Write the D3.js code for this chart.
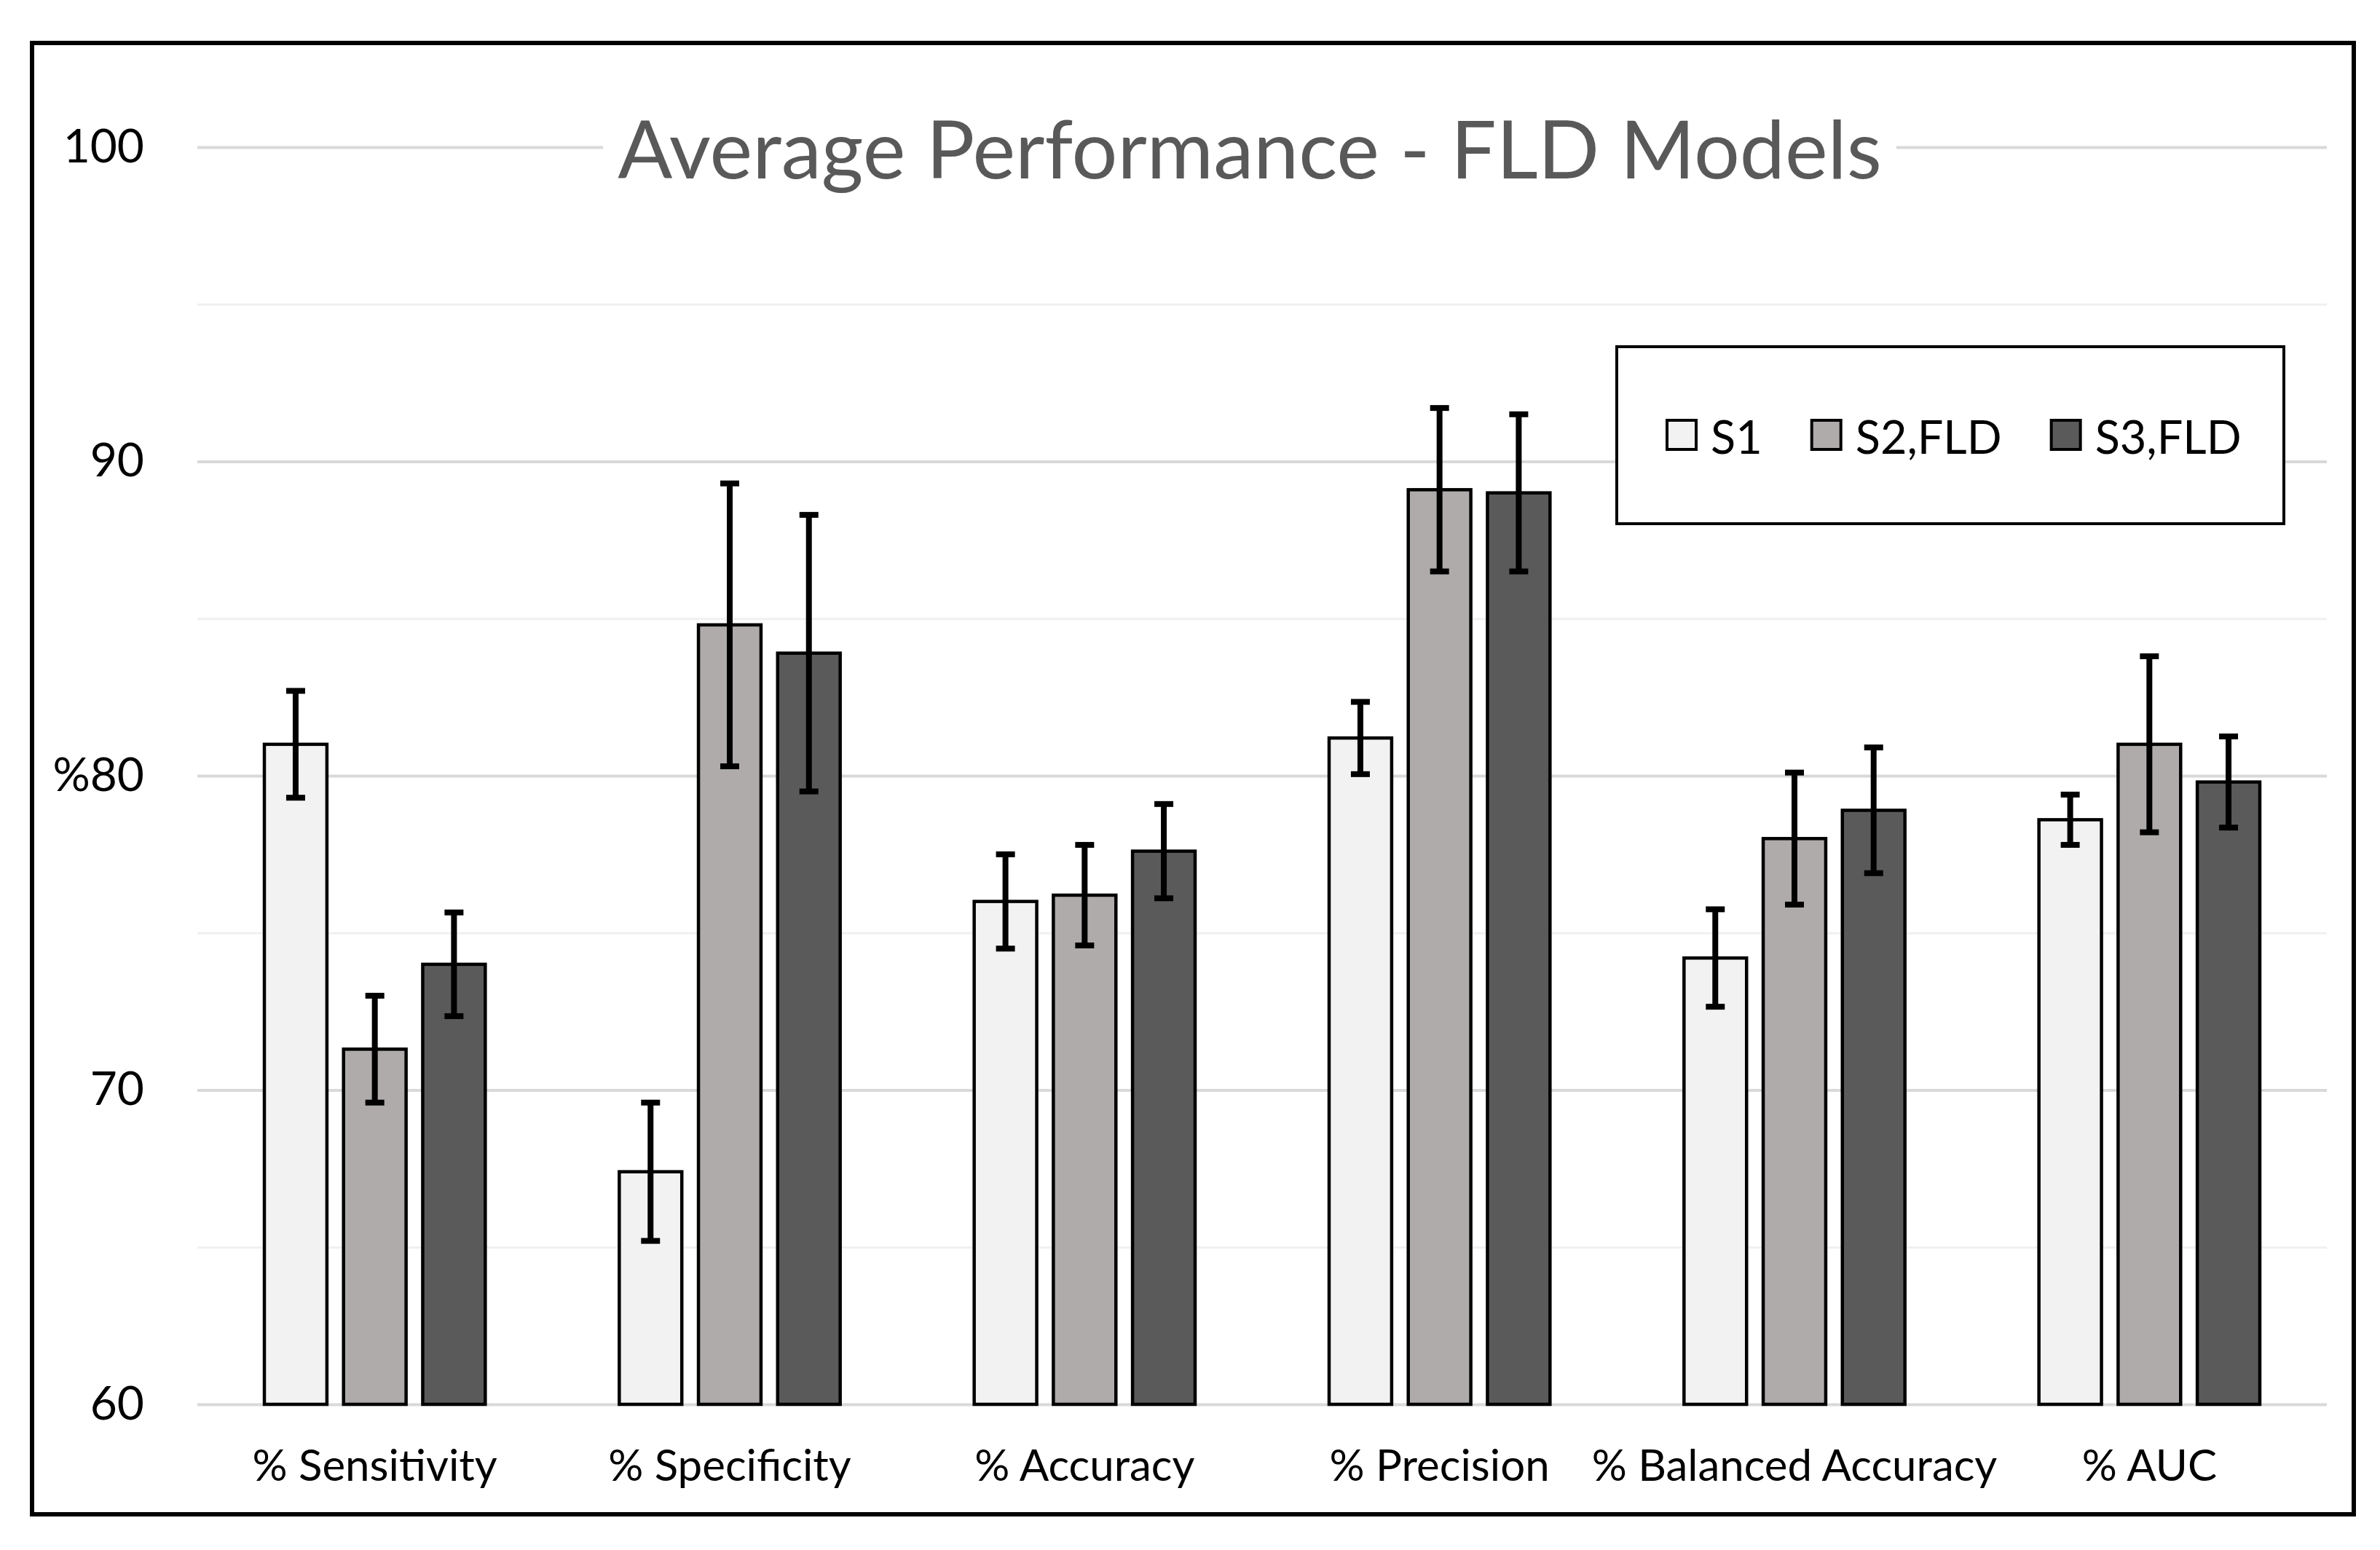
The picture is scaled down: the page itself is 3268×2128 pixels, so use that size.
<!DOCTYPE html>
<html>
<head>
<meta charset="utf-8">
<script src="https://cdn.jsdelivr.net/npm/d3@7"></script>
<style>
    body { margin: 0; background: #fff; }
    svg { display: block; font-family: Lato, "Open Sans", sans-serif; }
</style>
</head>
<body>
<svg id="chart"></svg>
<script>
// data
const categories = ["% Sensitivity", "% Specificity", "% Accuracy", "% Precision", "% Balanced Accuracy", "% AUC"];
const seriesNames = ["S1", "S2,FLD", "S3,FLD"];
const seriesColors = ["#f2f2f2", "#afabab", "#5a5a5a"];
const s1Values = [81.0, 67.4, 76.0, 81.2, 74.2, 78.6];
const s2Values = [71.3, 84.8, 76.2, 89.1, 78.0, 81.0];
const s3Values = [74.0, 83.9, 77.6, 89.0, 78.9, 79.8];
const s1Errors = [1.7, 2.2, 1.5, 1.15, 1.55, 0.8];
const s2Errors = [1.7, 4.5, 1.6, 2.6, 2.1, 2.8];
const s3Errors = [1.65, 4.4, 1.5, 2.5, 2.0, 1.45];
const majorTicks = [60, 70, 80, 90, 100];
const majorTickLabels = ["60", "70", "%80", "90", "100"];
const minorTicks = [65, 75, 85, 95];

const W = 3268, H = 2128;
const plot = { left: 271, right: 3195, top: 202, bottom: 1928 };

let svg = d3.select("#chart")
    .attr("width", W)
    .attr("height", H);

svg.append("rect")
    .attr("x", 44).attr("y", 59)
    .attr("width", 3188).attr("height", 2020)
    .attr("fill", "#fff")
    .attr("stroke", "#000")
    .attr("stroke-width", 6);

let y = d3.scaleLinear().domain([60, 100]).range([plot.bottom, plot.top]);

let x0 = d3.scaleBand()
    .domain(categories)
    .range([plot.left, plot.right])
    .padding(0);

let x1 = d3.scaleBand()
    .domain(seriesNames)
    .range([92, x0.bandwidth() - 92])
    .paddingInner(0.21);

// minor gridlines
svg.append("g")
    .attr("transform", `translate(${plot.left},0)`)
    .call(d3.axisLeft(y).tickValues(minorTicks).tickSize(-(plot.right - plot.left)).tickFormat(""))
    .call(g => g.select(".domain").remove())
    .call(g => g.selectAll("line").attr("stroke", "#f0f0f0").attr("stroke-width", 3));

// major gridlines
svg.append("g")
    .attr("transform", `translate(${plot.left},0)`)
    .call(d3.axisLeft(y).tickValues(majorTicks).tickSize(-(plot.right - plot.left)).tickFormat(""))
    .call(g => g.select(".domain").remove())
    .call(g => g.selectAll("line").attr("stroke", "#d9d9d9").attr("stroke-width", 4));

// y labels
svg.append("g")
    .attr("transform", `translate(198,0)`)
    .call(d3.axisLeft(y).tickValues(majorTicks).tickSize(0).tickPadding(0)
        .tickFormat((d, i) => majorTickLabels[i]))
    .call(g => g.select(".domain").remove())
    .call(g => g.selectAll("text")
        .attr("fill", "#000")
        .style("font-family", "Lato, sans-serif")
        .style("font-size", "64px"));

// x labels
svg.append("g")
    .attr("transform", `translate(0,${plot.bottom})`)
    .call(d3.axisBottom(x0).tickSize(0).tickPadding(62))
    .call(g => g.select(".domain").remove())
    .call(g => g.selectAll("text")
        .attr("fill", "#000")
        .style("font-family", "Lato, sans-serif")
        .style("font-size", "60px"));

// title with white backing that cuts the 100 gridline
let titleG = svg.append("g");
let titleBg = titleG.append("rect").attr("fill", "#fff");
let title = titleG.append("text")
    .attr("x", 1716)
    .attr("y", 202)
    .attr("text-anchor", "middle")
    .attr("dominant-baseline", "central")
    .attr("fill", "#595959")
    .style("font-size", "111px")
    .text("Average Performance - FLD Models");
let tb = title.node().getBBox();
titleBg.attr("x", tb.x - 20).attr("y", tb.y).attr("width", tb.width + 40).attr("height", tb.height);

// bars
let values = [s1Values, s2Values, s3Values];
let errors = [s1Errors, s2Errors, s3Errors];
let rows = [];
categories.forEach((c, ci) => {
    seriesNames.forEach((s, si) => {
        rows.push({ cat: c, ser: s, si: si, v: values[si][ci], e: errors[si][ci] });
    });
});

let groups = svg.append("g").selectAll("g")
    .data(rows)
    .join("g")
    .attr("transform", d => `translate(${x0(d.cat) + x1(d.ser)},0)`);

groups.append("rect")
    .attr("x", 0)
    .attr("y", d => y(d.v))
    .attr("width", x1.bandwidth())
    .attr("height", d => plot.bottom - y(d.v))
    .attr("fill", d => seriesColors[d.si])
    .attr("stroke", "#000")
    .attr("stroke-width", 4.5);

// error bars
let cx = x1.bandwidth() / 2;
groups.append("line")
    .attr("x1", cx).attr("x2", cx)
    .attr("y1", d => y(d.v + d.e))
    .attr("y2", d => y(d.v - d.e))
    .attr("stroke", "#000")
    .attr("stroke-width", 8);
groups.append("line")
    .attr("x1", cx - 13).attr("x2", cx + 13)
    .attr("y1", d => y(d.v + d.e)).attr("y2", d => y(d.v + d.e))
    .attr("stroke", "#000").attr("stroke-width", 8);
groups.append("line")
    .attr("x1", cx - 13).attr("x2", cx + 13)
    .attr("y1", d => y(d.v - d.e)).attr("y2", d => y(d.v - d.e))
    .attr("stroke", "#000").attr("stroke-width", 8);

// legend
let legend = svg.append("g");
legend.append("rect")
    .attr("x", 2220).attr("y", 476)
    .attr("width", 916).attr("height", 243)
    .attr("fill", "#fff")
    .attr("stroke", "#000")
    .attr("stroke-width", 4);

let lx = 2289;
seriesNames.forEach((s, i) => {
    legend.append("rect")
        .attr("x", lx).attr("y", 577)
        .attr("width", 40).attr("height", 40)
        .attr("fill", seriesColors[i])
        .attr("stroke", "#000")
        .attr("stroke-width", 4);
    let t = legend.append("text")
        .attr("x", lx + 60)
        .attr("y", 598)
        .attr("dominant-baseline", "central")
        .attr("fill", "#000")
        .style("font-size", "63px")
        .text(s);
    lx += 60 + t.node().getComputedTextLength() + 68;
});
</script>
</body>
</html>
